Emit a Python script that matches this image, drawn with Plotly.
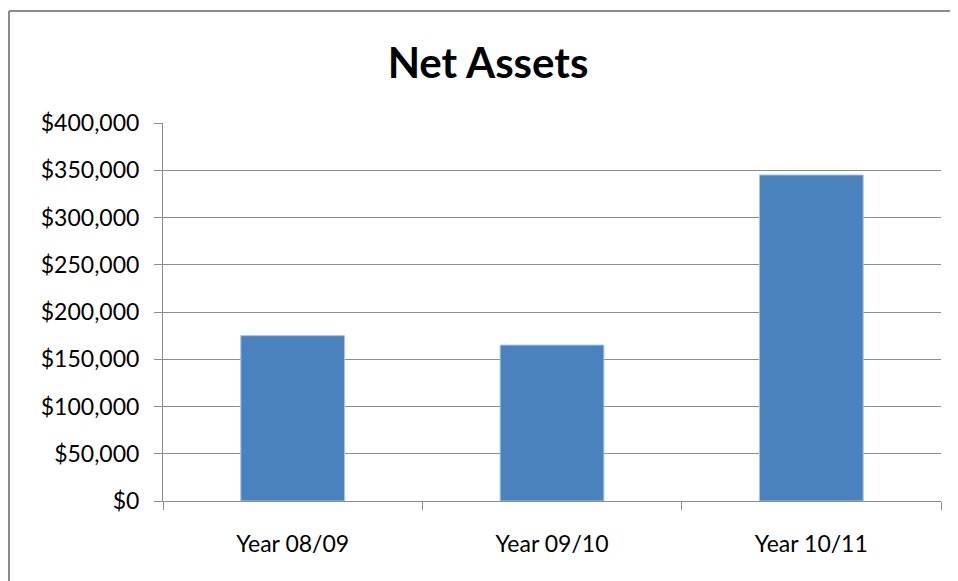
import plotly.graph_objects as go

categories = ["Year 08/09", "Year 09/10", "Year 10/11"]
net_assets = [175000, 165000, 345000]
y_ticks = [0, 50000, 100000, 150000, 200000, 250000, 300000, 350000, 400000]
y_tick_labels = ["$0", "$50,000", "$100,000", "$150,000", "$200,000",
                 "$250,000", "$300,000", "$350,000", "$400,000"]

OFF = 8  # page body margin
W, H = 958 - OFF, 581 - OFF
# desired page coordinates of plot area
PL, PR, PT, PB = 163, 941, 123, 501
L, T = PL - OFF, PT - OFF
R, B = 958 - PR, 581 - PB
pw, ph = PR - PL, PB - PT

fig = go.Figure(go.Bar(
    x=categories, y=net_assets,
    marker=dict(color="#4a82bd", line=dict(color="#a6c3e3", width=1)),
    width=0.4,
))

def px_x(x):
    return (x - PL) / pw

def px_y(y):
    return (PB - y) / ph

gray = "#8c8c8c"
fig.add_shape(type="line", xref="paper", yref="paper",
              x0=px_x(9), x1=px_x(9), y0=px_y(590), y1=px_y(11),
              line=dict(color=gray, width=2))
fig.add_shape(type="line", xref="paper", yref="paper",
              x0=px_x(9), x1=px_x(970), y0=px_y(11), y1=px_y(11),
              line=dict(color=gray, width=2))

fig.update_layout(
    width=W, height=H,
    margin=dict(l=L, r=R, t=T, b=B),
    paper_bgcolor="white", plot_bgcolor="white",
    showlegend=False,
    title=dict(text="<b>Net Assets</b>", x=px_x(488), xref="paper",
               xanchor="center", y=1 - (63 - OFF) / H, yanchor="middle",
               font=dict(family="Lato", size=42, color="black")),
    font=dict(family="Lato", color="black"),
)
fig.update_yaxes(
    range=[0, 400000], tickvals=y_ticks, ticktext=y_tick_labels,
    showgrid=True, gridcolor=gray, gridwidth=1,
    showline=True, linecolor=gray, linewidth=1,
    ticks="outside", ticklen=8, tickcolor=gray,
    tickfont=dict(family="Lato", size=23, color="black"),
    ticklabelstandoff=10, zeroline=False,
)
fig.update_xaxes(
    showline=True, linecolor=gray, linewidth=1,
    ticks="outside", ticklen=8, tickcolor=gray, tickson="boundaries",
    tickfont=dict(family="Lato", size=23, color="black"),
    ticklabelstandoff=22,
)

fig.write_html("out.html", config={"displayModeBar": False})
